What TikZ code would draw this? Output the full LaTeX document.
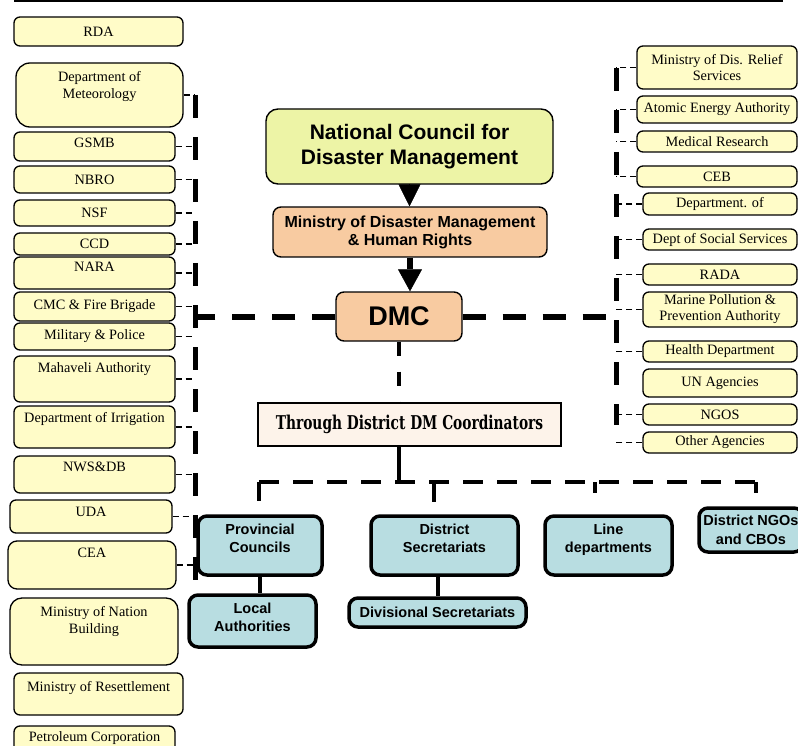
\documentclass[tikz,border=0pt]{standalone}
\usepackage{fontspec}
\setmainfont{Liberation Serif}
\setsansfont{Liberation Sans}
\newfontfamily\condfont[FakeStretch=0.725]{DejaVu Serif}
\usepackage{tikz}
\usetikzlibrary{shapes.geometric, arrows.meta}
\definecolor{agencyfill}{HTML}{FFFCC8}
\definecolor{councilfill}{HTML}{EDF4A6}
\definecolor{ministryfill}{HTML}{F8CBA1}
\definecolor{districtfill}{HTML}{B8DDE1}
\definecolor{relayfill}{HTML}{FDF3EA}
\tikzstyle{agency} = [rectangle, rounded corners=6pt, draw=black, line width=1.3pt, fill=agencyfill, inner sep=0pt, align=center, font=\fontsize{14.3}{17}\selectfont]
\tikzstyle{council} = [rectangle, rounded corners=12pt, draw=black, line width=1.4pt, fill=councilfill, inner sep=0pt, align=center, font=\sffamily\bfseries\fontsize{21}{25}\selectfont]
\tikzstyle{ministry} = [rectangle, rounded corners=8pt, draw=black, line width=1.4pt, fill=ministryfill, inner sep=0pt, align=center, font=\sffamily\bfseries\fontsize{16}{18}\selectfont]
\tikzstyle{district} = [rectangle, rounded corners=9pt, draw=black, line width=3.5pt, fill=districtfill, inner sep=0pt, align=center, font=\sffamily\bfseries\fontsize{14.5}{18}\selectfont]
\tikzstyle{relay} = [rectangle, draw=black, line width=1.2pt, fill=relayfill, inner sep=0pt, font=\condfont\bfseries\fontsize{19}{22}\selectfont]
\tikzstyle{head} = [line width=1pt, -{Triangle[width=22pt,length=22pt,line width=0.5pt]}]
\tikzstyle{arrow} = [line width=6pt, -{Triangle[width=24pt,length=22pt,line width=0.5pt]}]
\tikzstyle{spine} = [line width=5pt, dash pattern=on 23pt off 19pt]
\tikzstyle{trunk} = [line width=6pt, dash pattern=on 23pt off 17pt]
\tikzstyle{bus} = [line width=4pt, dash pattern=on 20pt off 14pt]
\tikzstyle{feed} = [line width=4pt, dash pattern=on 14pt off 16pt]
\tikzstyle{link} = [line width=1.8pt, dash pattern=on 6pt off 4pt]
\tikzstyle{tie} = [line width=4pt]

\begin{document}
\begin{tikzpicture}[x=1pt, y=-1pt]
		\clip (0,0) rectangle (798,746);
		\draw [line width=1.5pt] (14,1) -- (783,1);
		% left column
		\node (rda) [agency, minimum width=169pt, minimum height=29pt] at (98.5,31.5) {RDA};
		\node (meteo) [agency, rounded corners=14pt, minimum width=167pt, minimum height=64pt, text depth=20pt] at (99.5,95) {Department of\\Meteorology};
		\node (gsmb) [agency, minimum width=161pt, minimum height=29pt, text depth=7.4pt] at (94.5,146.5) {GSMB};
		\node (nbro) [agency, minimum width=161pt, minimum height=27pt] at (94.5,179.5) {NBRO};
		\node (nsf) [agency, minimum width=161pt, minimum height=26pt] at (94.5,213) {NSF};
		\node (ccd) [agency, minimum width=161pt, minimum height=22pt] at (94.5,244) {CCD};
		\node (nara) [agency, minimum width=161pt, minimum height=32pt, text depth=12.4pt] at (94.5,273) {NARA};
		\node (cmc) [agency, minimum width=161pt, minimum height=29pt] at (94.5,306.5) {CMC \& Fire Brigade};
		\node (milit) [agency, minimum width=161pt, minimum height=27pt] at (94.5,336.5) {Military \& Police};
		\node (mahav) [agency, minimum width=161pt, minimum height=46pt, text depth=22.4pt] at (94.5,379) {Mahaveli Authority};
		\node (irrig) [agency, minimum width=161pt, minimum height=42pt, text depth=18.4pt] at (94.5,427) {Department of Irrigation};
		\node (nwsdb) [agency, minimum width=161pt, minimum height=37pt, text depth=15.4pt] at (94.5,474.5) {NWS\&DB};
		\node (uda) [agency, minimum width=162pt, minimum height=33pt, text depth=9.4pt] at (91,516.5) {UDA};
		\node (cea) [agency, rounded corners=9pt, minimum width=168pt, minimum height=48pt, text depth=24.4pt] at (92,565) {CEA};
		\node (nation) [agency, rounded corners=12pt, minimum width=168pt, minimum height=67pt, text depth=24pt] at (94,631.5) {Ministry of Nation\\Building};
		\node (resettle) [agency, minimum width=169pt, minimum height=42pt, text depth=14.4pt] at (98.5,694) {Ministry of Resettlement};
		\node (petrol) [agency, minimum width=161pt, minimum height=42pt, text depth=20.4pt] at (94.5,747) {Petroleum Corporation};
		% right column
		\node (relief) [agency, minimum width=160pt, minimum height=43pt, font=\fontsize{14.3}{16}\selectfont] at (717,67.5) {Ministry of Dis. Relief\\Services};
		\node (atomic) [agency, minimum width=160pt, minimum height=27pt] at (717,109.5) {Atomic Energy Authority};
		\node (medical) [agency, minimum width=160pt, minimum height=21pt] at (717,141.5) {Medical Research};
		\node (ceb) [agency, minimum width=160pt, minimum height=21pt] at (717,176.5) {CEB};
		\node (deptof) [agency, minimum width=154pt, minimum height=22pt] at (720,204) {Department. of};
		\node (social) [agency, minimum width=154pt, minimum height=21pt] at (720,239.5) {Dept of Social Services};
		\node (rada) [agency, minimum width=154pt, minimum height=21pt] at (720,274.5) {RADA};
		\node (marine) [agency, minimum width=154pt, minimum height=35pt, font=\fontsize{14.3}{16}\selectfont] at (720,309.5) {Marine Pollution \&\\Prevention Authority};
		\node (health) [agency, minimum width=154pt, minimum height=21pt] at (720,351.5) {Health Department};
		\node (un) [agency, minimum width=154pt, minimum height=28pt] at (720,383) {UN Agencies};
		\node (ngos) [agency, minimum width=154pt, minimum height=21pt] at (720,414.5) {NGOS};
		\node (other) [agency, minimum width=154pt, minimum height=21pt] at (720,442.5) {Other Agencies};
		% centre
		\node (council) [council, minimum width=287pt, minimum height=75pt] at (409.5,146.5) {National Council for\\Disaster Management};
		\node (ministry) [ministry, minimum width=274pt, minimum height=50pt] at (410,232) {Ministry of Disaster Management\\\& Human Rights};
		\node (dmc) [ministry, minimum width=126pt, minimum height=49pt, font=\sffamily\bfseries\fontsize{27}{30}\selectfont] at (399,316.5) {DMC};
		\node (through) [relay, minimum width=303pt, minimum height=43pt] at (409.5,424.5) {Through District DM Coordinators};
		% district level
		\node (prov) [district, minimum width=124pt, minimum height=59pt, text depth=15pt] at (260,545.5) {Provincial\\Councils};
		\node (dsec) [district, minimum width=147pt, minimum height=59pt, text depth=15pt] at (444.5,545.5) {District\\Secretariats};
		\node (linedep) [district, minimum width=127pt, minimum height=59pt, text depth=15pt] at (608.5,545.5) {Line\\departments};
		\node (ngo) [district, minimum width=104pt, minimum height=44pt, font=\sffamily\bfseries\fontsize{14.5}{19}\selectfont] at (751,530) {District NGOs\\and CBOs};
		\node (local) [district, minimum width=127pt, minimum height=52pt, text depth=7pt] at (252.5,621) {Local\\Authorities};
		\node (divis) [district, minimum width=177pt, minimum height=29pt] at (437.5,612.5) {Divisional Secretariats};
		% spines
		\coordinate (lTop) at (195,95);
		\coordinate (lBot) at (195,580);
		\coordinate (rTop) at (616,68);
		\coordinate (rBot) at (616,425);
		\draw [spine] (lTop) -- (lBot);
		\draw [spine] (rTop) -- (rBot);
		\draw [link] (meteo.east) -- (meteo.east -| lTop);
		\draw [link] (gsmb.east) -- (gsmb.east -| lTop);
		\draw [link] (nbro.east) -- (nbro.east -| lTop);
		\draw [link] (nsf.east) -- (nsf.east -| lTop);
		\draw [link] (ccd.east) -- (ccd.east -| lTop);
		\draw [link] (nara.east) -- (nara.east -| lTop);
		\draw [link] (cmc.east) -- (cmc.east -| lTop);
		\draw [link] (milit.east) -- (milit.east -| lTop);
		\draw [link] (mahav.east) -- (mahav.east -| lTop);
		\draw [link] (irrig.east) -- (irrig.east -| lTop);
		\draw [link] (nwsdb.east) -- (nwsdb.east -| lTop);
		\draw [link] (uda.east) -- (uda.east -| lTop);
		\draw [link] (cea.east) -- (cea.east -| lTop);
		\draw [link] (relief.west) -- (relief.west -| rTop);
		\draw [link] (atomic.west) -- (atomic.west -| rTop);
		\draw [link] (medical.west) -- (medical.west -| rTop);
		\draw [link] (ceb.west) -- (ceb.west -| rTop);
		\draw [link] (deptof.west) -- (deptof.west -| rTop);
		\draw [link] (social.west) -- (social.west -| rTop);
		\draw [link] (rada.west) -- (rada.west -| rTop);
		\draw [link] (marine.west) -- (marine.west -| rTop);
		\draw [link] (health.west) -- (health.west -| rTop);
		\draw [link] (ngos.west) -- (ngos.west -| rTop);
		\draw [link] (other.west) -- (other.west -| rTop);
		% centre links
		\draw [head] (council.south) -- (council.south |- ministry.north);
		\draw [arrow] (ministry.south) -- (ministry.south |- dmc.north);
		\draw [trunk] (dmc.west) -- (dmc.west -| lTop);
		\draw [trunk] (dmc.east) -- (dmc.east -| rTop);
		\draw [feed] (dmc.south) -- (dmc.south |- through.north);
		% bus to district level
		\coordinate (tapP) at (259,482);
		\coordinate (tapS) at (434,482);
		\coordinate (tapL) at (595,482);
		\coordinate (tapN) at (756,482);
		\draw [tie] (dmc.south |- through.south) -- (dmc.south |- tapP);
		\draw [bus] (tapP) -- (tapN);
		\draw [bus, shorten >=13pt] (tapP) -- (tapP |- prov.north);
		\draw [bus] (tapS) -- (tapS |- dsec.north);
		\draw [bus, shorten >=21pt] (tapL) -- (tapL |- linedep.north);
		\draw [bus, shorten >=13pt] (tapN) -- (tapN |- ngo.north);
		\draw [tie] (prov.south) -- (prov.south |- local.north);
		\draw [tie] (divis.north |- dsec.south) -- (divis.north);
		\end{tikzpicture}
\end{document}
